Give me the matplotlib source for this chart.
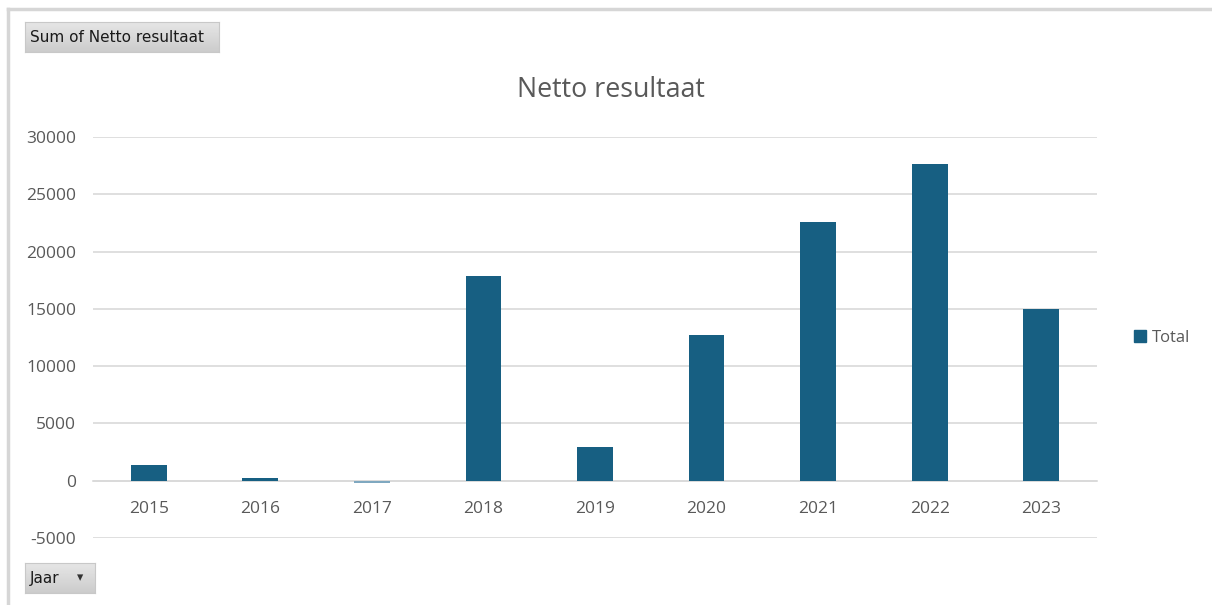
import numpy as np
import matplotlib
matplotlib.use('Agg')
import matplotlib.pyplot as plt
from matplotlib.patches import Rectangle
from matplotlib.lines import Line2D

# data
years = ['2015', '2016', '2017', '2018', '2019', '2020', '2021', '2022', '2023']
netto = [1400, 240, -230, 17880, 2940, 12730, 22590, 27650, 14980]
yticks = [-5000, 0, 5000, 10000, 15000, 20000, 25000, 30000]

bar_color = '#175F82'
neg_color = '#7FA8C0'
text_gray = '#595959'
grid_gray = '#D9D9D9'

plt.rcParams['font.family'] = ['Open Sans', 'DejaVu Sans']

W, H = 1212, 605
fig = plt.figure(figsize=(W / 100, H / 100), dpi=100)
ax = fig.add_axes([93 / W, (H - 538) / H, 1004 / W, 401 / H])

x = np.arange(len(years))
colors = [bar_color if v >= 0 else neg_color for v in netto]
ax.bar(x, netto, width=0.32, color=colors, zorder=3)

ax.set_xlim(-0.5, len(years) - 0.5)
ax.set_ylim(-5000, 30000)
ax.set_yticks(yticks)
ax.set_yticklabels([str(t) for t in yticks])
ax.yaxis.grid(True, color=grid_gray, linewidth=1.2, zorder=0)
ax.tick_params(axis='y', length=0, pad=12, labelsize=12.5, labelcolor=text_gray)

# category axis sits at zero, like excel does
ax.spines['bottom'].set_position(('data', 0))
ax.spines['bottom'].set_color(grid_gray)
ax.spines['bottom'].set_linewidth(1.2)
for s in ['top', 'right', 'left']:
    ax.spines[s].set_visible(False)
ax.set_xticks(x)
ax.set_xticklabels(years)
ax.tick_params(axis='x', length=0, pad=14.5, labelsize=12.5, labelcolor=text_gray)

fig.text(611 / W, 1 - 90 / H, 'Netto resultaat', ha='center', va='center',
         fontsize=19.3, color=text_gray)

# legend
fig.legend(handles=[Rectangle((0, 0), 1, 1, color=bar_color)], labels=['Total'],
           loc='center left', bbox_to_anchor=(1119 / W, 1 - 338 / H),
           frameon=False, fontsize=12, handlelength=0.7, handleheight=0.7,
           handletextpad=0.4, labelcolor=text_gray)

# outer frame of the pivot chart (top and left edges only visible)
fig.add_artist(Line2D([8 / W, 1], [1 - 9 / H, 1 - 9 / H], color='#D6D6D6', lw=2.5))
fig.add_artist(Line2D([8 / W, 8 / W], [0, 1 - 9 / H], color='#D6D6D6', lw=2.5))

# field buttons with a soft vertical gradient
grad = np.linspace(0.90, 0.80, 50).reshape(-1, 1)

def button(x0, y0, w, h, label):
    bax = fig.add_axes([x0 / W, 1 - (y0 + h) / H, w / W, h / H])
    bax.imshow(grad, cmap='gray', vmin=0, vmax=1, aspect='auto',
               extent=(0, 1, 0, 1), origin='upper')
    bax.set_xticks([])
    bax.set_yticks([])
    for s in bax.spines.values():
        s.set_color('#C8C8C8')
        s.set_linewidth(0.8)
    fig.text((x0 + 5) / W, 1 - (y0 + h / 2) / H, label, ha='left', va='center',
             fontsize=11, color='#1A1A1A', family=['DejaVu Sans'])

button(25, 22, 194, 30, 'Sum of Netto resultaat')
button(25, 563, 70, 30, 'Jaar')
fig.text(80 / W, 1 - 578 / H, '\u25BE', ha='center', va='center',
         fontsize=9, color='#333333', family=['DejaVu Sans'])

fig.savefig('out.png', dpi=100)
